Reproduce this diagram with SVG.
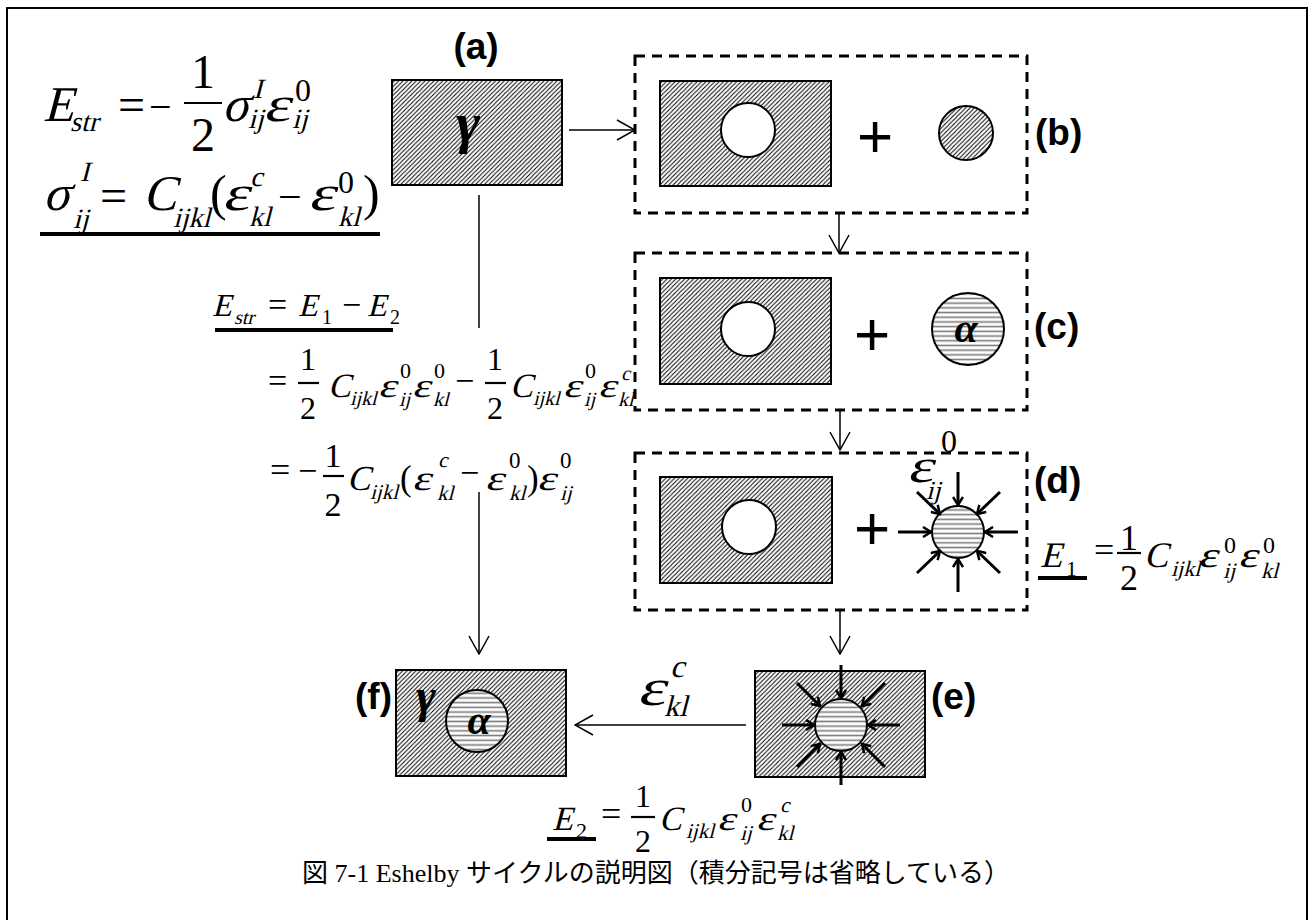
<svg xmlns="http://www.w3.org/2000/svg" width="1309" height="920" viewBox="0 0 1309 920">
<style>
.m{font-family:"Liberation Serif","Times New Roman",serif;fill:#000}
.n{font-family:"Liberation Serif","Times New Roman",serif;fill:#000}
.lab{font-family:"Liberation Sans",Arial,sans-serif;font-weight:bold;font-size:37px;fill:#000}
.g{font-family:"Liberation Serif","Times New Roman",serif;font-style:italic;font-weight:bold;fill:#000}
.plus{font-family:"Liberation Sans",Arial,sans-serif;font-size:62px;fill:#000}
.box{fill:url(#hatch);stroke:#000;stroke-width:2}
.dash{fill:none;stroke:#000;stroke-width:3;stroke-dasharray:10 7}
.hole{fill:#fff;stroke:#000;stroke-width:2}
.strp{fill:url(#stripe);stroke:#000;stroke-width:2}
.conn{fill:none;stroke:#000;stroke-width:1.5}
.push{fill:none;stroke:#000;stroke-width:3;marker-end:url(#tk)}
.bar{stroke:#000;stroke-width:2.2}
.cap{font-family:"Liberation Serif","Noto Sans CJK JP",serif;font-size:26px;fill:#000}
</style>
<defs>
<pattern id="hatch" patternUnits="userSpaceOnUse" width="4.4" height="4.4">
<rect width="4.4" height="4.4" fill="#fff"/>
<path d="M-1,1 L1,-1 M0,4.4 L4.4,0 M3.4,5.4 L5.4,3.4" stroke="#000" stroke-width="1"/>
</pattern>
<pattern id="stripe" patternUnits="userSpaceOnUse" width="10" height="4.7">
<rect width="10" height="4.7" fill="#fff"/>
<line x1="0" y1="2.35" x2="10" y2="2.35" stroke="#7a7a7a" stroke-width="1.6"/>
</pattern>
<marker id="open" markerUnits="userSpaceOnUse" viewBox="0 0 20 22" markerWidth="20" markerHeight="22" refX="19" refY="11" orient="auto">
<path d="M1,1 L19,11 L1,21" fill="none" stroke="#000" stroke-width="1.5"/>
</marker>
<marker id="tk" markerUnits="userSpaceOnUse" viewBox="0 0 12 12" markerWidth="12" markerHeight="12" refX="10" refY="6" orient="auto">
<path d="M2,1 L10,6 L2,11" fill="none" stroke="#000" stroke-width="2.5"/>
</marker>
</defs>
<rect x="0" y="0" width="1309" height="920" fill="#fff"/>
<rect x="7" y="8" width="1300" height="930" fill="none" stroke="#000" stroke-width="2"/>

<g id="eq-top">
<text class="m" transform="matrix(1 0 -0.26 1 43 121)" font-size="50">E</text>
<text class="m" transform="matrix(1 0 -0.26 1 70 131)" font-size="28">str</text>
<text class="n" x="118" y="121" font-size="48">=</text>
<text class="n" x="149" y="120" font-size="40">−</text>
<text class="n" x="203" y="88" font-size="48" text-anchor="middle">1</text>
<line class="bar" x1="184" y1="103" x2="222" y2="103"/>
<text class="n" x="203" y="151" font-size="48" text-anchor="middle">2</text>
<text class="m" transform="matrix(1 0 -0.26 1 222 121)" font-size="50">σ</text>
<text class="m" transform="matrix(1 0 -0.26 1 253 98)" font-size="28">I</text>
<text class="m" transform="matrix(1 0 -0.26 1 248 128)" font-size="28">ij</text>
<text class="m" transform="matrix(1.3 0 -0.26 1 263 121)" font-size="50">ε</text>
<text class="n" x="295" y="101" font-size="32">0</text>
<text class="m" transform="matrix(1 0 -0.26 1 292 128)" font-size="28">ij</text>

<text class="m" transform="matrix(1 0 -0.26 1 43 210)" font-size="50">σ</text>
<text class="m" transform="matrix(1 0 -0.26 1 80 181)" font-size="28">I</text>
<text class="m" transform="matrix(1 0 -0.26 1 73 228)" font-size="28">ij</text>
<text class="n" x="100" y="212" font-size="48">=</text>
<text class="m" transform="matrix(1 0 -0.26 1 143 210)" font-size="50">C</text>
<text class="m" transform="matrix(1 0 -0.26 1 173 227)" font-size="28">ijkl</text>
<text class="n" x="210" y="210" font-size="50">(</text>
<text class="m" transform="matrix(1.3 0 -0.26 1 222 210)" font-size="50">ε</text>
<text class="m" transform="matrix(1 0 -0.26 1 250 186)" font-size="28">c</text>
<text class="m" transform="matrix(1 0 -0.26 1 249 226)" font-size="28">kl</text>
<text class="n" x="278" y="211" font-size="42">−</text>
<text class="m" transform="matrix(1.3 0 -0.26 1 308 210)" font-size="50">ε</text>
<text class="n" x="338" y="193" font-size="32">0</text>
<text class="m" transform="matrix(1 0 -0.26 1 338 226)" font-size="28">kl</text>
<text class="n" x="363" y="210" font-size="50">)</text>
<rect x="40" y="232" width="340" height="4" fill="#000"/>
</g>

<g id="eq-mid">
<text class="m" transform="matrix(1 0 -0.26 1 212 316)" font-size="32">E</text>
<text class="m" transform="matrix(1 0 -0.26 1 234 324)" font-size="20">str</text>
<text class="n" x="268" y="316" font-size="34">=</text>
<text class="m" transform="matrix(1 0 -0.26 1 298 316)" font-size="32">E</text>
<text class="n" x="322" y="324" font-size="20">1</text>
<text class="n" x="342" y="316" font-size="34">−</text>
<text class="m" transform="matrix(1 0 -0.26 1 367 316)" font-size="32">E</text>
<text class="n" x="390" y="324" font-size="20">2</text>
<rect x="215" y="328" width="178" height="4" fill="#000"/>

<text class="n" x="268" y="392" font-size="34">=</text>
<text class="n" x="308" y="370" font-size="32" text-anchor="middle">1</text>
<line class="bar" x1="298" y1="383" x2="319" y2="383"/>
<text class="n" x="308" y="419" font-size="32" text-anchor="middle">2</text>
<text class="m" transform="matrix(1 0 -0.26 1 328 397)" font-size="34">C</text>
<text class="m" transform="matrix(1 0 -0.26 1 350 405)" font-size="20">ijkl</text>
<text class="m" transform="matrix(1.3 0 -0.26 1 378 397)" font-size="34">ε</text>
<text class="n" x="400" y="378" font-size="22">0</text>
<text class="m" transform="matrix(1 0 -0.26 1 399 406)" font-size="20">ij</text>
<text class="m" transform="matrix(1.3 0 -0.26 1 412 397)" font-size="34">ε</text>
<text class="n" x="434" y="378" font-size="22">0</text>
<text class="m" transform="matrix(1 0 -0.26 1 433 406)" font-size="20">kl</text>
<text class="n" x="455" y="392" font-size="34">−</text>
<text class="n" x="495" y="370" font-size="32" text-anchor="middle">1</text>
<line class="bar" x1="485" y1="383" x2="506" y2="383"/>
<text class="n" x="495" y="419" font-size="32" text-anchor="middle">2</text>
<text class="m" transform="matrix(1 0 -0.26 1 510 397)" font-size="34">C</text>
<text class="m" transform="matrix(1 0 -0.26 1 533 405)" font-size="20">ijkl</text>
<text class="m" transform="matrix(1.3 0 -0.26 1 563 397)" font-size="34">ε</text>
<text class="n" x="585" y="378" font-size="22">0</text>
<text class="m" transform="matrix(1 0 -0.26 1 584 406)" font-size="20">ij</text>
<text class="m" transform="matrix(1.3 0 -0.26 1 598 397)" font-size="34">ε</text>
<text class="m" transform="matrix(1 0 -0.26 1 621 380)" font-size="20">c</text>
<text class="m" transform="matrix(1 0 -0.26 1 618 406)" font-size="20">kl</text>

<text class="n" x="270" y="482" font-size="36">=</text>
<text class="n" x="298" y="482" font-size="34">−</text>
<text class="n" x="333" y="467" font-size="34" text-anchor="middle">1</text>
<line class="bar" x1="323" y1="476" x2="344" y2="476"/>
<text class="n" x="333" y="516" font-size="34" text-anchor="middle">2</text>
<text class="m" transform="matrix(1 0 -0.26 1 347 490)" font-size="35">C</text>
<text class="m" transform="matrix(1 0 -0.26 1 370 499)" font-size="21">ijkl</text>
<text class="n" x="400" y="490" font-size="35">(</text>
<text class="m" transform="matrix(1.3 0 -0.26 1 412 490)" font-size="35">ε</text>
<text class="m" transform="matrix(1 0 -0.26 1 438 467)" font-size="21">c</text>
<text class="m" transform="matrix(1 0 -0.26 1 437 500)" font-size="21">kl</text>
<text class="n" x="460" y="484" font-size="34">−</text>
<text class="m" transform="matrix(1.3 0 -0.26 1 485 490)" font-size="35">ε</text>
<text class="n" x="509" y="468" font-size="23">0</text>
<text class="m" transform="matrix(1 0 -0.26 1 509 500)" font-size="21">kl</text>
<text class="n" x="527" y="490" font-size="35">)</text>
<text class="m" transform="matrix(1.3 0 -0.26 1 537 490)" font-size="35">ε</text>
<text class="n" x="560" y="468" font-size="23">0</text>
<text class="m" transform="matrix(1 0 -0.26 1 560 500)" font-size="21">ij</text>
</g>

<g id="connectors">
<line class="conn" x1="569" y1="130" x2="635" y2="130" marker-end="url(#open)"/>
<line class="conn" x1="839" y1="213" x2="839" y2="253" marker-end="url(#open)"/>
<line class="conn" x1="840" y1="410" x2="840" y2="450" marker-end="url(#open)"/>
<line class="conn" x1="840" y1="610" x2="840" y2="654" marker-end="url(#open)"/>
<line class="conn" x1="746" y1="725" x2="575" y2="725" marker-end="url(#open)"/>
<line class="conn" x1="479" y1="195" x2="479" y2="328"/>
<line class="conn" x1="479" y1="492" x2="479" y2="654" marker-end="url(#open)"/>
</g>

<g id="node-a">
<text class="lab" x="476" y="59" text-anchor="middle">(a)</text>
<rect class="box" x="392" y="80" width="170" height="105"/>
<text class="g" x="468" y="142" font-size="58" text-anchor="middle">γ</text>
</g>

<g id="node-b">
<rect class="dash" x="635" y="56" width="392" height="157"/>
<rect class="box" x="660" y="81" width="171" height="105"/>
<circle class="hole" cx="748" cy="130" r="27"/>
<text class="plus" x="875" y="157" text-anchor="middle">+</text>
<circle cx="966" cy="133" r="27" fill="url(#hatch)" stroke="#000" stroke-width="2"/>
<text class="lab" x="1035" y="145">(b)</text>
</g>

<g id="node-c">
<rect class="dash" x="635" y="253" width="392" height="157"/>
<rect class="box" x="660" y="278" width="171" height="106"/>
<circle class="hole" cx="748" cy="329" r="27"/>
<text class="plus" x="872" y="355" text-anchor="middle">+</text>
<circle class="strp" cx="968" cy="329" r="36"/>
<text class="g" x="966" y="342" font-size="42" text-anchor="middle">α</text>
<text class="lab" x="1034" y="339">(c)</text>
</g>

<g id="node-d">
<rect class="dash" x="635" y="453" width="392" height="157"/>
<rect class="box" x="660" y="477" width="172" height="106"/>
<circle class="hole" cx="749" cy="527" r="27"/>
<text class="plus" x="872" y="549" text-anchor="middle">+</text>
<circle class="strp" cx="958" cy="532" r="26"/>
<line class="push" x1="958" y1="472" x2="958" y2="505"/>
<line class="push" x1="958" y1="592" x2="958" y2="559"/>
<line class="push" x1="898" y1="532" x2="931" y2="532"/>
<line class="push" x1="1018" y1="532" x2="985" y2="532"/>
<line class="push" x1="917" y1="492" x2="940" y2="514"/>
<line class="push" x1="1000" y1="492" x2="977" y2="514"/>
<line class="push" x1="917" y1="573" x2="940" y2="551"/>
<line class="push" x1="1000" y1="573" x2="977" y2="551"/>
<text class="m" transform="matrix(1.3 0 -0.26 1 907 482)" font-size="48">ε</text>
<text class="n" x="941" y="452" font-size="32">0</text>
<text class="m" transform="matrix(1 0 -0.26 1 926 499)" font-size="26">ij</text>
<text class="lab" x="1034" y="493">(d)</text>
</g>

<g id="eq-e1">
<text class="m" transform="matrix(1 0 -0.26 1 1040 567)" font-size="36">E</text>
<text class="n" x="1066" y="576" font-size="22">1</text>
<rect x="1038" y="576" width="49" height="4" fill="#000"/>
<text class="n" x="1094" y="562" font-size="36">=</text>
<text class="n" x="1129" y="550" font-size="36" text-anchor="middle">1</text>
<line class="bar" x1="1117" y1="553" x2="1141" y2="553"/>
<text class="n" x="1129" y="590" font-size="36" text-anchor="middle">2</text>
<text class="m" transform="matrix(1 0 -0.26 1 1144 567)" font-size="36">C</text>
<text class="m" transform="matrix(1 0 -0.26 1 1171 576)" font-size="22">ijkl</text>
<text class="m" transform="matrix(1.3 0 -0.26 1 1198 567)" font-size="36">ε</text>
<text class="n" x="1224" y="553" font-size="24">0</text>
<text class="m" transform="matrix(1 0 -0.26 1 1223 578)" font-size="22">ij</text>
<text class="m" transform="matrix(1.3 0 -0.26 1 1238 567)" font-size="36">ε</text>
<text class="n" x="1263" y="553" font-size="24">0</text>
<text class="m" transform="matrix(1 0 -0.26 1 1261 578)" font-size="22">kl</text>
</g>

<g id="node-e">
<rect class="box" x="755" y="671" width="170" height="106"/>
<circle class="strp" cx="841" cy="725" r="26"/>
<line class="push" x1="841" y1="665" x2="841" y2="698"/>
<line class="push" x1="841" y1="785" x2="841" y2="752"/>
<line class="push" x1="782" y1="725" x2="814" y2="725"/>
<line class="push" x1="900" y1="725" x2="868" y2="725"/>
<line class="push" x1="797" y1="683" x2="820" y2="706"/>
<line class="push" x1="885" y1="683" x2="862" y2="706"/>
<line class="push" x1="797" y1="767" x2="820" y2="744"/>
<line class="push" x1="885" y1="767" x2="862" y2="744"/>
<text class="lab" x="931" y="709">(e)</text>
</g>

<g id="label-ekl">
<text class="m" transform="matrix(1.3 0 -0.26 1 637 705)" font-size="52">ε</text>
<text class="m" transform="matrix(1 0 -0.26 1 670 677)" font-size="32">c</text>
<text class="m" transform="matrix(1 0 -0.26 1 664 716)" font-size="30">kl</text>
</g>

<g id="node-f">
<text class="lab" x="392" y="709" text-anchor="end">(f)</text>
<rect class="box" x="396" y="670" width="170" height="106"/>
<circle class="strp" cx="477" cy="721" r="31"/>
<text class="g" x="426" y="712" font-size="48" text-anchor="middle">γ</text>
<text class="g" x="479" y="734" font-size="42" text-anchor="middle">α</text>
</g>

<g id="eq-e2">
<text class="m" transform="matrix(1 0 -0.26 1 552 830)" font-size="34">E</text>
<text class="n" x="576" y="838" font-size="22">2</text>
<rect x="547" y="837" width="49" height="4" fill="#000"/>
<text class="n" x="601" y="826" font-size="36">=</text>
<text class="n" x="643" y="807" font-size="32" text-anchor="middle">1</text>
<line class="bar" x1="631" y1="817" x2="655" y2="817"/>
<text class="n" x="643" y="852" font-size="32" text-anchor="middle">2</text>
<text class="m" transform="matrix(1 0 -0.26 1 659 830)" font-size="34">C</text>
<text class="m" transform="matrix(1 0 -0.26 1 686 838)" font-size="21">ijkl</text>
<text class="m" transform="matrix(1.3 0 -0.26 1 717 830)" font-size="34">ε</text>
<text class="n" x="741" y="812" font-size="22">0</text>
<text class="m" transform="matrix(1 0 -0.26 1 740 840)" font-size="21">ij</text>
<text class="m" transform="matrix(1.3 0 -0.26 1 756 830)" font-size="34">ε</text>
<text class="m" transform="matrix(1 0 -0.26 1 780 812)" font-size="21">c</text>
<text class="m" transform="matrix(1 0 -0.26 1 777 840)" font-size="21">kl</text>
</g>

<text class="cap" x="656" y="882" text-anchor="middle">図 7-1 Eshelby サイクルの説明図（積分記号は省略している）</text>
</svg>
